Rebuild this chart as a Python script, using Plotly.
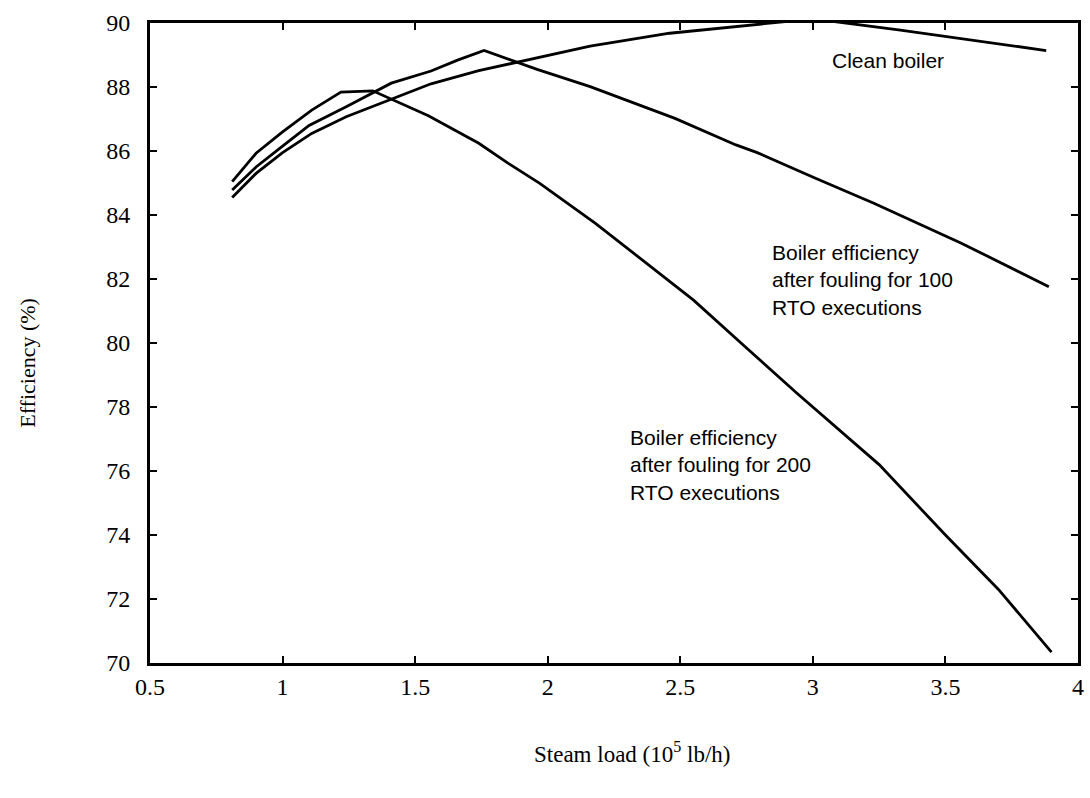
import plotly.graph_objects as go

# Steam load (10^5 lb/h)
clean_x = [0.81, 0.90, 1.00, 1.11, 1.24, 1.44, 1.56, 1.74, 1.89, 2.16, 2.46, 2.71, 2.85, 3.00, 3.33, 3.59, 3.88]
clean_y = [84.55, 85.30, 85.95, 86.55, 87.07, 87.70, 88.10, 88.51, 88.79, 89.28, 89.68, 89.88, 90.00, 90.13, 89.78, 89.47, 89.14]

f100_x = [0.81, 0.90, 1.00, 1.10, 1.24, 1.41, 1.56, 1.66, 1.76, 1.96, 2.16, 2.31, 2.48, 2.71, 2.79, 3.01, 3.23, 3.56, 3.89]
f100_y = [84.78, 85.50, 86.15, 86.80, 87.38, 88.12, 88.50, 88.84, 89.14, 88.55, 88.01, 87.54, 87.02, 86.19, 85.95, 85.15, 84.37, 83.12, 81.76]

f200_x = [0.81, 0.90, 1.00, 1.11, 1.22, 1.34, 1.55, 1.74, 1.85, 1.97, 2.18, 2.38, 2.55, 2.73, 2.94, 3.25, 3.50, 3.70, 3.90]
f200_y = [85.04, 85.93, 86.60, 87.28, 87.84, 87.88, 87.10, 86.24, 85.62, 84.99, 83.74, 82.45, 81.34, 79.99, 78.43, 76.20, 74.00, 72.30, 70.34]

x_ticks = [0.5, 1, 1.5, 2, 2.5, 3, 3.5, 4]
x_tick_labels = ["0.5", "1", "1.5", "2", "2.5", "3", "3.5", "4"]
y_ticks = [70, 72, 74, 76, 78, 80, 82, 84, 86, 88, 90]
y_tick_labels = ["70", "72", "74", "76", "78", "80", "82", "84", "86", "88", "90"]

labels = ["Clean boiler",
          "Boiler efficiency<br>after fouling for 100<br>RTO executions",
          "Boiler efficiency<br>after fouling for 200<br>RTO executions"]
label_x = [3.063, 2.838, 2.302]
label_y = [88.84, 81.97, 76.19]

fig = go.Figure()
for xs, ys in [(clean_x, clean_y), (f100_x, f100_y), (f200_x, f200_y)]:
    fig.add_trace(go.Scatter(x=xs, y=ys, mode="lines",
                             line=dict(color="black", width=2.8),
                             showlegend=False, hoverinfo="skip"))

for t, ax, ay in zip(labels, label_x, label_y):
    fig.add_annotation(x=ax, y=ay, xref="x", yref="y", text=t, showarrow=False,
                       xanchor="left", yanchor="middle", align="left",
                       font=dict(family="Liberation Sans, Arial", size=21, color="black"))

fig.add_annotation(x=(636 - 150) / (1084 - 150), y=-(752 - 663) / (663 - 23),
                   xref="paper", yref="paper",
                   text="Steam load (10<sup>5</sup> lb/h)", showarrow=False,
                   xanchor="center", yanchor="middle",
                   font=dict(family="Liberation Serif, Times New Roman", size=23, color="black"))
fig.add_annotation(x=-(150 - 26) / (1084 - 150), y=(663 - 363) / (663 - 23),
                   xref="paper", yref="paper", text="Efficiency (%)", textangle=-90,
                   showarrow=False, xanchor="center", yanchor="middle",
                   font=dict(family="Liberation Serif, Times New Roman", size=22, color="black"))

axis_common = dict(showline=True, linecolor="black", linewidth=3, mirror="ticks",
                   ticks="inside", ticklen=7, tickwidth=2, tickcolor="black",
                   showgrid=False, zeroline=False,
                   tickfont=dict(family="Liberation Serif, Times New Roman", size=24, color="black"))

fig.update_xaxes(range=[0.5, 4], tickvals=x_ticks, ticktext=x_tick_labels, **axis_common)
fig.update_yaxes(range=[70, 90], tickvals=y_ticks,
                 ticktext=[t + "\u00a0\u00a0" for t in y_tick_labels], **axis_common)

fig.update_layout(width=1090, height=798, margin=dict(l=150, r=6, t=23, b=135),
                  plot_bgcolor="white", paper_bgcolor="white")

fig.write_html("out.html")
